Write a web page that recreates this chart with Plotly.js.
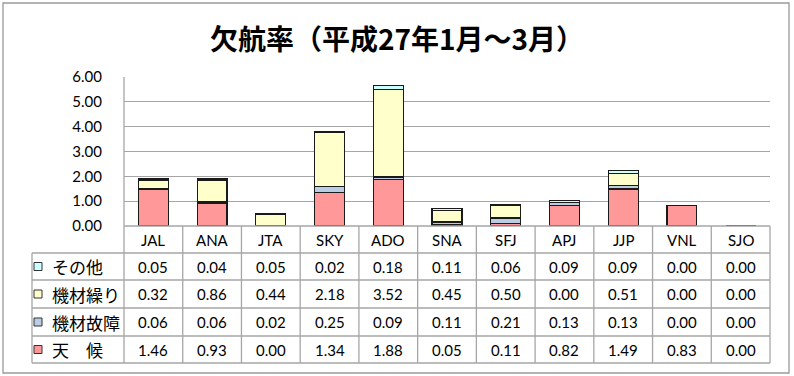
<!DOCTYPE html>
<html>
<head>
<meta charset="utf-8">
<script src="https://cdn.plot.ly/plotly-3.0.1.min.js"></script>
<style>html,body{margin:0;padding:0;background:#fff;}#chart{width:794px;height:376px;}</style>
</head>
<body>
<div id="chart"></div>
<script>
// ---- data ----
const categories = ["JAL","ANA","JTA","SKY","ADO","SNA","SFJ","APJ","JJP","VNL","SJO"];
const weather    = [1.46,0.93,0.00,1.34,1.88,0.05,0.11,0.82,1.49,0.83,0.00]; // 天候
const breakdown  = [0.06,0.06,0.02,0.25,0.09,0.11,0.21,0.13,0.13,0.00,0.00]; // 機材故障
const rotation   = [0.32,0.86,0.44,2.18,3.52,0.45,0.50,0.00,0.51,0.00,0.00]; // 機材繰り
const other      = [0.05,0.04,0.05,0.02,0.18,0.11,0.06,0.09,0.09,0.00,0.00]; // その他
const seriesNames = ["天　候","機材故障","機材繰り","その他"];
const yTicks = [0,1,2,3,4,5,6];
const titleText = "欠航率（平成27年1月～3月）";

// ---- layout geometry ----
const W = 794, H = 376;
const L = 124, R = 770, T = 77, B = 226;
const plotH = B - T, plotW = R - L;
const py = p => (B - p) / plotH;      // pixel y -> paper y
const px = p => (p - L) / plotW;      // pixel x -> paper x

const colors = ["#FF9999","#B9CDE5","#FFFFCC","#CCFFFF"];
const seriesVals = [weather, breakdown, rotation, other];
const lineCol = "#A6A6A6";
const numFont = {family: "Lato, 'Noto Sans CJK JP', sans-serif", size: 15, color: "#000"};
const jpFont = {family: "'Noto Sans CJK JP', sans-serif", size: 17, color: "#000"};

const traces = seriesVals.map((vals, i) => ({
  type: "bar", x: categories, y: vals, name: seriesNames[i],
  marker: {color: colors[i], line: {color: "#1a1a1a", width: 1.2}},
  hoverinfo: "x+y+name"
}));

const shapes = [];
const annotations = [];
const hline = (y, x0, x1) => shapes.push({type:"line", xref:"paper", yref:"paper", x0:x0, x1:x1, y0:y, y1:y, line:{color:lineCol, width:1.3}});
const vlineP = (x, y0, y1) => shapes.push({type:"line", xref:"paper", yref:"paper", x0:x, x1:x, y0:y0, y1:y1, line:{color:lineCol, width:1.3}});

// outer frame
shapes.push({type:"rect", xref:"paper", yref:"paper", x0:px(3), x1:px(789), y0:py(373), y1:py(3), line:{color:"#9a9a9a", width:1.3}, layer:"below"});

// table rows
const rowLines = [253, 280, 308, 336, 363];
hline(py(226), 0, 1);
rowLines.forEach(r => hline(py(r), px(32), 1));
vlineP(0, py(363), py(T));
vlineP(1, py(363), py(226));
vlineP(px(32), py(363), py(253));
for (let i = 0; i < categories.length - 1; i++) {
  shapes.push({type:"line", xref:"x", yref:"paper", x0:i+0.5, x1:i+0.5, y0:py(363), y1:py(226), line:{color:lineCol, width:1.3}});
}

// header labels
categories.forEach(c => annotations.push({xref:"x", yref:"paper", x:c, y:py(239.5), text:c, showarrow:false, font:numFont, xanchor:"center", yanchor:"middle"}));

// rows: top to bottom その他, 機材繰り, 機材故障, 天候
const rowCenters = [266.5, 294, 322, 349.5];
[3,2,1,0].forEach((si, r) => {
  const yc = py(rowCenters[r]);
  shapes.push({type:"rect", xref:"paper", yref:"paper", x0:px(34), x1:px(42), y0:py(rowCenters[r]+4), y1:py(rowCenters[r]-4), fillcolor:colors[si], line:{color:"#333", width:1}});
  annotations.push({xref:"paper", yref:"paper", x:px(50), y:yc, text:seriesNames[si], showarrow:false, font:jpFont, xanchor:"left", yanchor:"middle"});
  seriesVals[si].forEach((v, ci) => annotations.push({xref:"x", yref:"paper", x:categories[ci], y:yc, text:v.toFixed(2), showarrow:false, font:numFont, xanchor:"center", yanchor:"middle"}));
});

const layout = {
  width: W, height: H,
  margin: {l: L, r: W - R, t: T, b: H - B, pad: 0},
  paper_bgcolor: "#fff", plot_bgcolor: "#fff",
  showlegend: false,
  barmode: "stack", bargap: 0.49,
  title: {text: titleText, x: 0.5, xref: "container", xanchor: "center", y: 1 - 40/H, yref: "container", yanchor: "middle",
          font: {family: "'Noto Sans CJK JP', sans-serif", size: 28, color: "#000", weight: "bold"}},
  xaxis: {type: "category", range: [-0.5, 10.5], showticklabels: false, showgrid: false, zeroline: false, showline: false, ticks: "", fixedrange: true},
  yaxis: {range: [0, 6], tickvals: yTicks, ticktext: yTicks.map(v => v.toFixed(2)), showgrid: true, gridcolor: lineCol, gridwidth: 1.3,
          zeroline: false, showline: false, ticks: "outside", ticklen: 18, tickcolor: "rgba(0,0,0,0)",
          tickfont: numFont, fixedrange: true},
  shapes: shapes, annotations: annotations
};

Plotly.newPlot("chart", traces, layout, {displayModeBar: false, staticPlot: true});
</script>
</body>
</html>
